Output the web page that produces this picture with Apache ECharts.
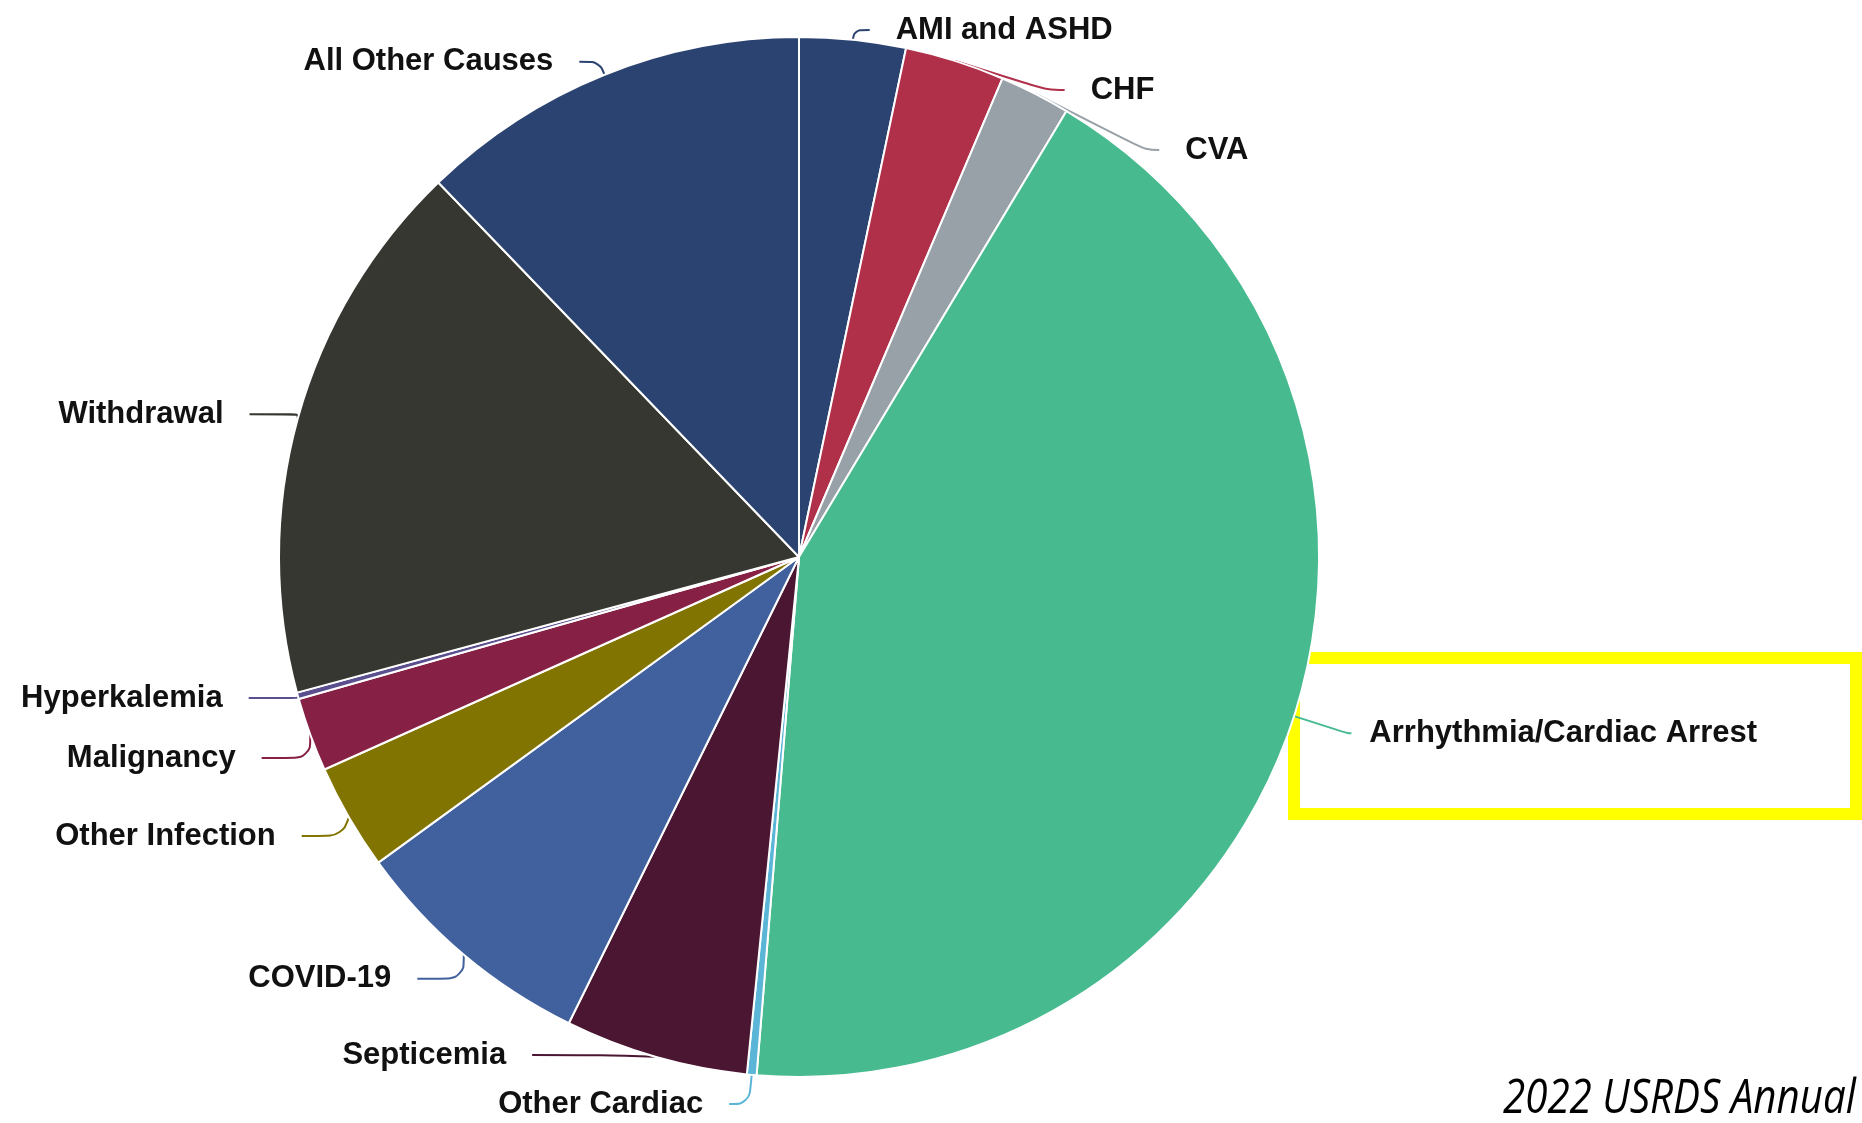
<!DOCTYPE html>
<html>
<head>
<meta charset="utf-8">
<script src="https://cdn.jsdelivr.net/npm/echarts@6.0.0/dist/echarts.min.js"></script>
<style>
  html, body { margin: 0; padding: 0; background: #fff; }
  #myChart { width: 1862px; height: 1123px; }
</style>
</head>
<body>
<div id="myChart"></div>
<script>
// causes of death, clockwise from 12 o'clock
const causes = [
  "AMI and ASHD", "CHF", "CVA", "Arrhythmia/Cardiac Arrest", "Other Cardiac",
  "Septicemia", "COVID-19", "Other Infection", "Malignancy", "Hyperkalemia",
  "Withdrawal", "All Other Causes"
];
// percent of deaths
const shares = [3.3, 3.1, 2.2, 42.7, 0.3, 5.7, 7.7, 3.3, 2.3, 0.2, 17.0, 12.2];
const colors = [
  "#2b4370", "#b0304a", "#98a0a8", "#47ba8f", "#5bb5d6",
  "#4b1632", "#41619e", "#827400", "#862044", "#5c4f8f",
  "#373731", "#2b4370"
];
// label connector lengths (first / second segment)
const lineLen = [18, 16, 16, 56, 28, 0, 34, 40, 14, 14, 12, 14];
const lineLen2 = [15, 33, 40, 4, 20, 68, 50, 40, 66, 60, 62, 20];

const myChart = echarts.init(document.getElementById("myChart"));

myChart.setOption({
  animation: false,
  series: [
    {
      type: "pie",
      center: [799, 557],
      radius: 520,
      startAngle: 90,
      clockwise: true,
      avoidLabelOverlap: true,
      itemStyle: { borderColor: "#fff", borderWidth: 2 },
      label: {
        show: true,
        color: "#111",
        fontSize: 31,
        fontWeight: "bold",
        fontFamily: "'Liberation Sans', Arial, sans-serif",
        lineHeight: 58,
        distanceToLabelLine: 26
      },
      labelLine: {
        show: true,
        smooth: 0.4,
        lineStyle: { width: 2 }
      },
      data: causes.map((name, i) => ({
        name: name,
        value: shares[i],
        itemStyle: { color: colors[i] },
        labelLine: { length: lineLen[i], length2: lineLen2[i] },
        label: name === "Arrhythmia/Cardiac Arrest" ? { distanceToLabelLine: 18 }
          : name === "Other Cardiac" ? { lineHeight: 36 } : {}
      }))
    }
  ],
  graphic: [
    {
      type: "rect",
      shape: { x: 1294, y: 658, width: 562, height: 156 },
      style: { fill: "none", stroke: "#ffff00", lineWidth: 12 }
    },
    {
      type: "text",
      x: 1856,
      y: 1099,
      scaleX: 0.84,
      style: {
        text: "2022 USRDS Annual",
        font: "italic 48px 'Open Sans', sans-serif",
        fill: "#000",
        align: "right",
        verticalAlign: "middle"
      }
    }
  ]
});
</script>
</body>
</html>
